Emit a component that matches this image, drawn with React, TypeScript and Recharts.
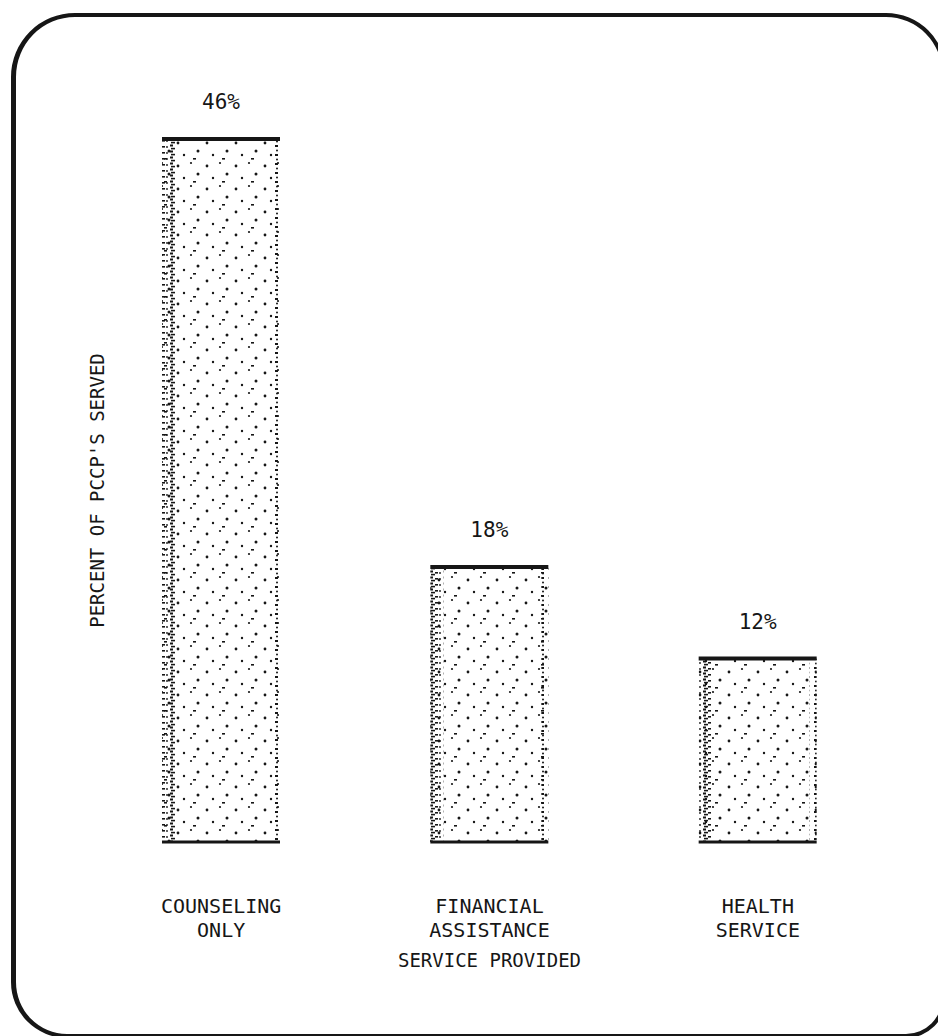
import { BarChart, Bar, XAxis, YAxis, LabelList } from "recharts";

const services = ["Counseling only", "Financial assistance", "Health service"];
const tickLines = [
  ["COUNSELING", "ONLY"],
  ["FINANCIAL", "ASSISTANCE"],
  ["HEALTH", "SERVICE"],
];
const percentServed = [46, 18, 12];

const ink = "#161616";
const font = "'DejaVu Sans Mono', 'Liberation Mono', monospace";

const data = services.map((s, i) => ({ service: s, pct: percentServed[i] }));

function CategoryTick(props: any) {
  const { x, y, index } = props;
  const lines = tickLines[index] || [];
  return (
    <text x={x} y={y} textAnchor="middle" fontFamily={font} fontSize={20} fill={ink}>
      {lines.map((l, i) => (
        <tspan key={i} x={x} y={y + 71 + i * 24}>
          {l}
        </tspan>
      ))}
    </text>
  );
}

function StippleBar(props: any) {
  const { x, y, width, height } = props;
  if (!height) return null;
  return (
    <g>
      <rect x={x} y={y} width={width} height={height} fill="#fff" />
      <rect x={x} y={y} width={width} height={height} fill="url(#stipple)" />
      <rect x={x} y={y} width={13} height={height} fill="url(#edge)" />
      <rect x={x + width - 7} y={y} width={7} height={height} fill="url(#edgeR)" />
      <line x1={x} x2={x + width} y1={y} y2={y} stroke={ink} strokeWidth={4} />
      <line x1={x} x2={x + width} y1={y + height} y2={y + height} stroke={ink} strokeWidth={3} />
    </g>
  );
}

function PctLabel(props: any) {
  const { x, y, width, value } = props;
  return (
    <text x={x + width / 2} y={y - 30} textAnchor="middle" fontFamily={font} fontSize={21} fill={ink}>
      {value}%
    </text>
  );
}

function YTitle(props: any) {
  const { viewBox } = props;
  const cx = viewBox.x + viewBox.width + 10;
  const cy = viewBox.y + viewBox.height / 2;
  return (
    <text
      x={cx}
      y={cy}
      transform={`rotate(-90, ${cx}, ${cy})`}
      textAnchor="middle"
      dominantBaseline="central"
      fontFamily={font}
      fontSize={19}
      fill={ink}
    >
      PERCENT OF PCCP'S SERVED
    </text>
  );
}

export default function App() {
  return (
    <div
      style={{
        position: "absolute",
        left: 0,
        top: 0,
        width: 938,
        height: 1036,
        overflow: "hidden",
        background: "#fff",
      }}
    >
      <div
        style={{
          position: "absolute",
          left: 11,
          top: 13,
          width: 926,
          height: 1017,
          border: `4px solid ${ink}`,
          borderLeftWidth: 5,
          borderRadius: "64px 60px 40px 56px",
        }}
      />
      <BarChart
        width={938}
        height={1036}
        data={data}
        margin={{ top: 139, right: 46, bottom: 64, left: 27 }}
        barSize={118}
        style={{ position: "absolute", left: 0, top: 0 }}
      >
        <defs>
          <pattern id="stipple" width="29" height="23" patternUnits="userSpaceOnUse">
            <circle cx="4" cy="5" r="1.4" fill={ink} />
            <circle cx="17" cy="2" r="1.1" fill={ink} />
            <circle cx="24" cy="13" r="1.5" fill={ink} />
            <circle cx="10" cy="17" r="1.2" fill={ink} />
            <rect x="19" y="20" width="3" height="1.6" fill={ink} />
          </pattern>
          <pattern id="edge" width="13" height="6" patternUnits="userSpaceOnUse">
            <rect x="1" y="0.5" width="3" height="2" fill={ink} />
            <rect x="6" y="2" width="3" height="1.6" fill={ink} />
            <rect x="2" y="3.8" width="4" height="1.6" fill={ink} />
            <circle cx="11" cy="3" r="0.9" fill={ink} />
          </pattern>
          <pattern id="edgeR" width="7" height="9" patternUnits="userSpaceOnUse">
            <rect x="2" y="1" width="3" height="2" fill={ink} />
            <circle cx="4" cy="6.5" r="1" fill={ink} />
          </pattern>
        </defs>
        <XAxis
          dataKey="service"
          height={130}
          axisLine={false}
          tickLine={false}
          tickSize={0}
          tickMargin={0}
          interval={0}
          tick={<CategoryTick />}
          label={{
            value: "SERVICE PROVIDED",
            position: "insideBottom",
            offset: 5,
            fontFamily: font,
            fontSize: 19,
            fill: ink,
          }}
        />
        <YAxis
          width={60}
          domain={[0, 46]}
          tick={false}
          axisLine={false}
          tickLine={false}
          label={<YTitle />}
        />
        <Bar dataKey="pct" shape={<StippleBar />} isAnimationActive={false}>
          <LabelList dataKey="pct" content={<PctLabel />} />
        </Bar>
      </BarChart>
    </div>
  );
}
